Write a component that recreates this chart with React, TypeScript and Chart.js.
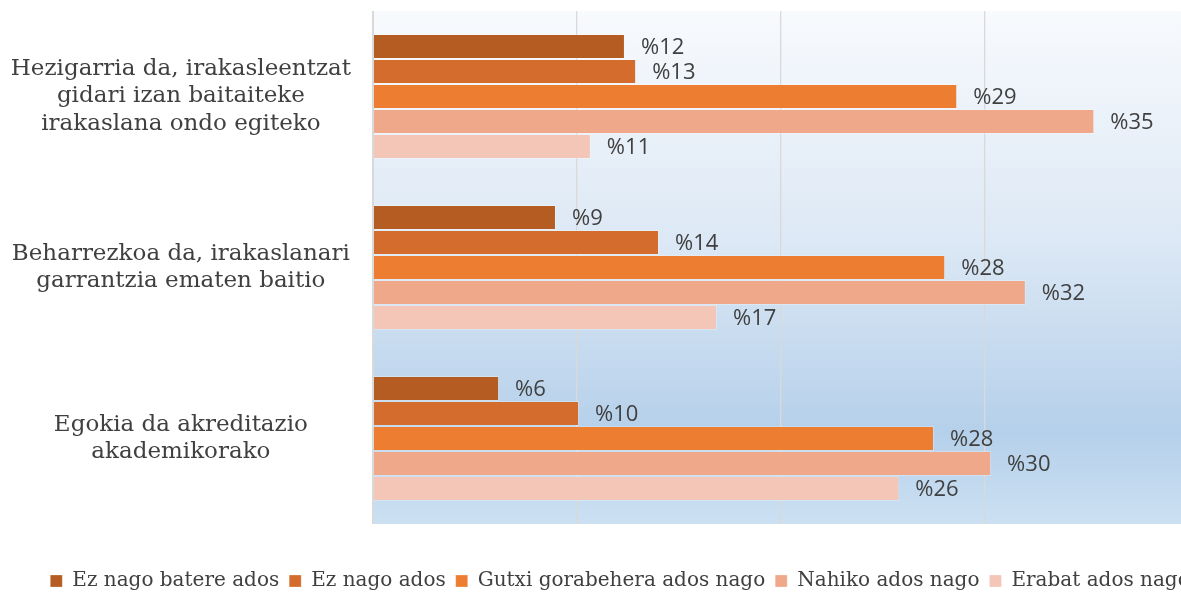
import React, { useEffect, useRef } from "react";
import { Chart, registerables } from "chart.js";

Chart.register(...registerables);

const categories: string[][] = [
  ["Hezigarria da, irakasleentzat", "gidari izan baitaiteke", "irakaslana ondo egiteko"],
  ["Beharrezkoa da, irakaslanari", "garrantzia ematen baitio"],
  ["Egokia da akreditazio", "akademikorako"],
];

const seriesNames: string[] = [
  "Ez nago batere ados",
  "Ez nago ados",
  "Gutxi gorabehera ados nago",
  "Nahiko ados nago",
  "Erabat ados nago",
];

const ezBatere: number[] = [12.35, 8.97, 6.18];
const ezAdos: number[] = [12.9, 14.02, 10.1];
const gutxi: number[] = [28.64, 28.05, 27.5];
const nahiko: number[] = [35.36, 32.0, 30.3];
const erabat: number[] = [10.68, 16.86, 25.8];

const ezBatereLabels: string[] = ["%12", "%9", "%6"];
const ezAdosLabels: string[] = ["%13", "%14", "%10"];
const gutxiLabels: string[] = ["%29", "%28", "%28"];
const nahikoLabels: string[] = ["%35", "%32", "%30"];
const erabatLabels: string[] = ["%11", "%17", "%26"];

const xTicks: number[] = [0, 10, 20, 30, 40];

const colors = ["#B45C22", "#D36C2C", "#ED7D31", "#F0A88A", "#F4C6B8"];

// canvas is wider/taller than the visible frame; the frame clips it like the reference crop
const W = 1240;
const H = 601;

export default function App() {
  const ref = useRef<HTMLCanvasElement | null>(null);

  useEffect(() => {
    const canvas = ref.current;
    if (!canvas) return;
    const values = [ezBatere, ezAdos, gutxi, nahiko, erabat];
    const labels = [ezBatereLabels, ezAdosLabels, gutxiLabels, nahikoLabels, erabatLabels];

    const bgPlugin = {
      id: "plotBg",
      beforeDraw(chart: any) {
        const { ctx, chartArea } = chart;
        if (!chartArea) return;
        const g = ctx.createLinearGradient(0, chartArea.top, 0, chartArea.bottom);
        g.addColorStop(0, "#F8FAFD");
        g.addColorStop(0.45, "#DCE8F5");
        g.addColorStop(0.82, "#B5D0EA");
        g.addColorStop(1, "#CCE0F2");
        ctx.save();
        ctx.fillStyle = g;
        ctx.fillRect(chartArea.left, chartArea.top, chartArea.right - chartArea.left, chartArea.bottom - chartArea.top);
        ctx.restore();
      },
    };

    const labelPlugin = {
      id: "barLabels",
      afterDatasetsDraw(chart: any) {
        const { ctx } = chart;
        ctx.save();
        ctx.font = "22px 'Open Sans'";
        ctx.fillStyle = "#404040";
        ctx.textAlign = "left";
        ctx.textBaseline = "middle";
        chart.data.datasets.forEach((ds: any, di: number) => {
          const meta = chart.getDatasetMeta(di);
          meta.data.forEach((bar: any, i: number) => {
            ctx.fillText(labels[di][i], bar.x + 16, bar.y + 1);
          });
        });
        ctx.restore();
      },
    };

    const chart = new Chart(canvas, {
      type: "bar",
      data: {
        labels: categories,
        datasets: seriesNames.map((name, i) => ({
          label: name,
          data: values[i],
          backgroundColor: colors[i],
          borderColor: "rgba(255,255,255,0.25)",
          borderWidth: 1,
          categoryPercentage: 0.731,
          barPercentage: 1,
        })),
      },
      options: {
        indexAxis: "y",
        responsive: false,
        animation: false,
        layout: { padding: { top: 11, left: 0, right: 0, bottom: 0 } },
        scales: {
          x: {
            min: 0,
            max: 42.5,
            afterBuildTicks(scale: any) {
              scale.ticks = xTicks.map((v) => ({ value: v }));
            },
            afterFit(scale: any) {
              scale.height = 37;
              scale.paddingLeft = 0;
              scale.paddingRight = 0;
            },
            ticks: { display: false },
            grid: {
              color: "#D9D9D9",
              lineWidth: (c: any) => (c.tick && c.tick.value === 0 ? 2 : 1.3),
              drawTicks: false,
            },
            border: { display: false },
          },
          y: {
            grid: { display: false, drawTicks: false },
            border: { display: false },
            afterFit(scale: any) {
              scale.width = 373;
              scale.paddingTop = 0;
              scale.paddingBottom = 0;
            },
            ticks: {
              crossAlign: "center",
              padding: 22,
              color: "#404040",
              font: { family: "'DejaVu Serif'", size: 23, lineHeight: 1.2 },
            },
          },
        },
        plugins: {
          legend: {
            position: "bottom",
            align: "center",
            labels: {
              boxWidth: 12,
              boxHeight: 12,
              padding: 10,
              color: "#404040",
              font: { family: "'DejaVu Serif'", size: 20 },
            },
          },
          tooltip: { enabled: false },
        },
      },
      plugins: [bgPlugin, labelPlugin],
    } as any);

    return () => chart.destroy();
  }, []);

  return (
    <div style={{ position: "fixed", left: 0, top: 0, width: 1181, height: 593, overflow: "hidden", background: "#fff" }}>
      <canvas ref={ref} width={W} height={H} style={{ width: W, height: H, display: "block" }} />
    </div>
  );
}
